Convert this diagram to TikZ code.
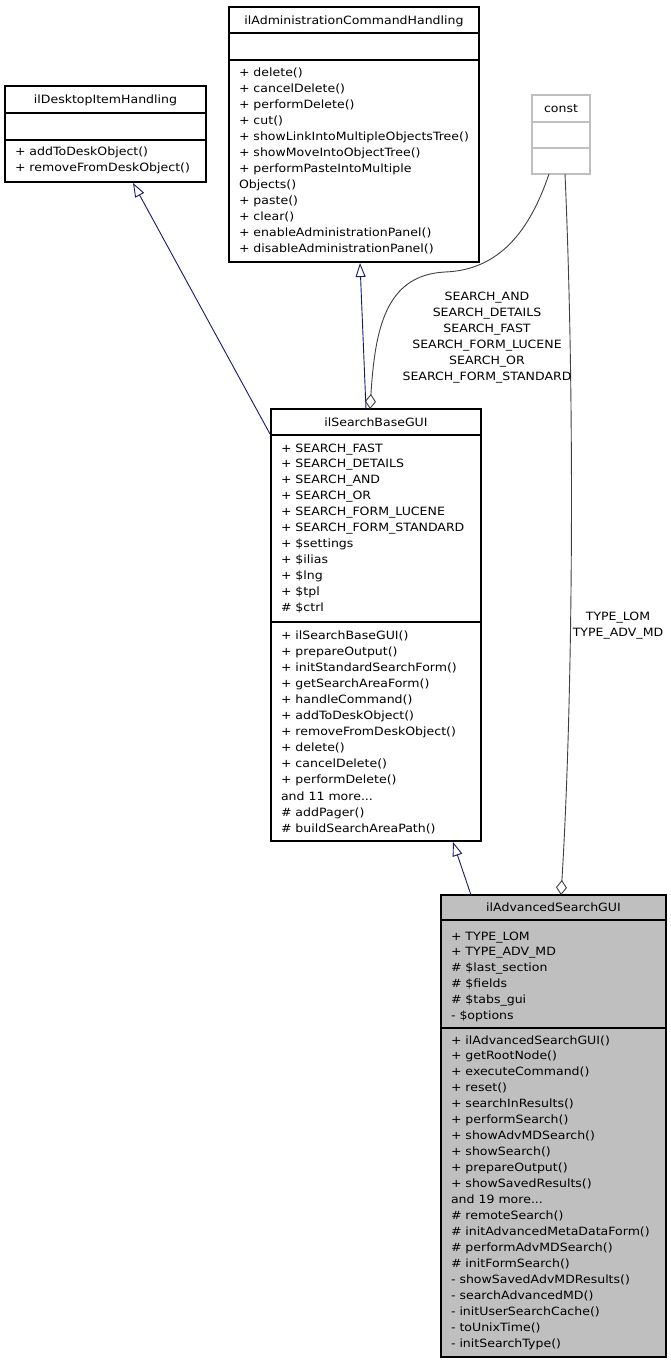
\documentclass[tikz,border=0pt]{standalone}
\usepackage{fontspec}
\setmainfont{DejaVu Sans}[FakeStretch=1.1]
\usetikzlibrary{arrows.meta,calc}
\definecolor{inhblue}{HTML}{191970}
\definecolor{agggrey}{HTML}{404040}
\definecolor{constgrey}{HTML}{BFBFBF}
\definecolor{advfill}{HTML}{BFBFBF}
\newcommand{\fs}[1]{\fontsize{11.4}{#1}\selectfont}
\newcommand{\fl}{\rule{0pt}{11pt}}
\newcommand{\sepline}[3][black]{\draw[draw=#1, line width=1.2pt] ([yshift=-#3pt]#2.north west) -- ([yshift=-#3pt]#2.north east);}
\begin{document}
\begin{tikzpicture}[x=1pt,y=-1pt,
  box/.style={draw=black, line width=1.2pt, fill=white, rectangle, inner sep=0pt, outer sep=0pt, anchor=north west},
  txt/.style={inner sep=0pt, outer sep=0pt, align=left, anchor=north west},
  ttl/.style={inner sep=0pt, outer sep=0pt, anchor=base, font=\fs{16}},
  lbl/.style={inner sep=0pt, outer sep=0pt, align=center, anchor=north},
  inh/.style={draw=inhblue, line width=0.9pt, -{Triangle[open, length=14pt, width=10pt, line width=0.9pt]}},
  agg/.style={draw=agggrey, line width=0.9pt, -{Diamond[open, length=15pt, width=11pt, line width=0.9pt]}}]
\useasboundingbox (0,0) rectangle (671,1365);
\fill[white] (0,0) rectangle (671,1365);

% ---------- boxes ----------
\node[box, minimum width=201pt, minimum height=96pt] (desk) at (5,86) {};
\sepline{desk}{27}
\sepline{desk}{54}
\node[ttl] (deskT) at (105.5,103.7) {ilDesktopItemHandling};
\node[txt, font=\fs{16}] (deskM) at (15,144) {\fl+ addToDeskObject()\\+ removeFromDeskObject()};

\node[box, minimum width=250pt, minimum height=255pt] (admin) at (229,7) {};
\sepline{admin}{26}
\sepline{admin}{53}
\node[ttl] (adminT) at (354,24.2) {ilAdministrationCommandHandling};
\node[txt, font=\fs{16}] (adminM) at (239,65) {\fl+ delete()\\+ cancelDelete()\\+ performDelete()\\+ cut()\\+ showLinkIntoMultipleObjectsTree()\\+ showMoveIntoObjectTree()\\+ performPasteIntoMultiple\\Objects()\\+ paste()\\+ clear()\\+ enableAdministrationPanel()\\+ disableAdministrationPanel()};

\node[box, draw=constgrey, minimum width=58pt, minimum height=79pt] (const) at (532,95) {};
\sepline[constgrey]{const}{27}
\sepline[constgrey]{const}{53}
\node[ttl] (constT) at (561,112.2) {const};

\node[box, minimum width=210pt, minimum height=432pt] (sbg) at (271,409) {};
\sepline{sbg}{26}
\sepline{sbg}{213}
\node[ttl] (sbgT) at (376,426.8) {ilSearchBaseGUI};
\node[txt, font=\fs{15.9}] (sbgA) at (281,441) {\fl+ SEARCH\_FAST\\+ SEARCH\_DETAILS\\+ SEARCH\_AND\\+ SEARCH\_OR\\+ SEARCH\_FORM\_LUCENE\\+ SEARCH\_FORM\_STANDARD\\+ \$settings\\+ \$ilias\\+ \$lng\\+ \$tpl\\\# \$ctrl};
\node[txt, font=\fs{16.1}] (sbgM) at (281,628) {\fl+ ilSearchBaseGUI()\\+ prepareOutput()\\+ initStandardSearchForm()\\+ getSearchAreaForm()\\+ handleCommand()\\+ addToDeskObject()\\+ removeFromDeskObject()\\+ delete()\\+ cancelDelete()\\+ performDelete()\\and 11 more...\\\# addPager()\\\# buildSearchAreaPath()};

\node[box, fill=advfill, minimum width=225pt, minimum height=462pt] (adv) at (441,895) {};
\sepline{adv}{25}
\sepline{adv}{133}
\node[ttl] (advT) at (553.5,911.7) {ilAdvancedSearchGUI};
\node[txt, font=\fs{15.9}] (advA) at (451,929) {\fl+ TYPE\_LOM\\+ TYPE\_ADV\_MD\\\# \$last\_section\\\# \$fields\\\# \$tabs\_gui\\- \$options};
\node[txt, font=\fs{15.95}] (advM) at (451,1033) {\fl+ ilAdvancedSearchGUI()\\+ getRootNode()\\+ executeCommand()\\+ reset()\\+ searchInResults()\\+ performSearch()\\+ showAdvMDSearch()\\+ showSearch()\\+ prepareOutput()\\+ showSavedResults()\\and 19 more...\\\# remoteSearch()\\\# initAdvancedMetaDataForm()\\\# performAdvMDSearch()\\\# initFormSearch()\\- showSavedAdvMDResults()\\- searchAdvancedMD()\\- initUserSearchCache()\\- toUnixTime()\\- initSearchType()};

% ---------- connectors ----------
\draw[inh] ($(sbg.north west)+(-1,25)$) -- ($(desk.south west)+(128,1)$);
\draw[inh] ($(sbg.north west)+(95,0)$) -- ($(admin.south west)+(131,1)$);
\draw[inh] ($(adv.north west)+(30,0)$) -- ($(sbg.south west)+(182,1)$);

\draw[agg] ($(const.south west)+(17,0)$) .. controls (530,230) and (500,270) .. (445,272)
  .. controls (385,275) and (375,330) .. ($(sbg.north west)+(99,0)$);
\draw[agg] ($(const.south west)+(33,0)$) .. controls (575,400) and (573,700) .. ($(adv.north west)+(120,0)$);

% ---------- labels ----------
\node[lbl, font=\fs{15.9}] (lblS) at (487,289.5) {\fl SEARCH\_AND\\SEARCH\_DETAILS\\SEARCH\_FAST\\SEARCH\_FORM\_LUCENE\\SEARCH\_OR\\SEARCH\_FORM\_STANDARD};
\node[lbl, font=\fs{16}] (lblT) at (618,609) {\fl TYPE\_LOM\\TYPE\_ADV\_MD};
\end{tikzpicture}
\end{document}
